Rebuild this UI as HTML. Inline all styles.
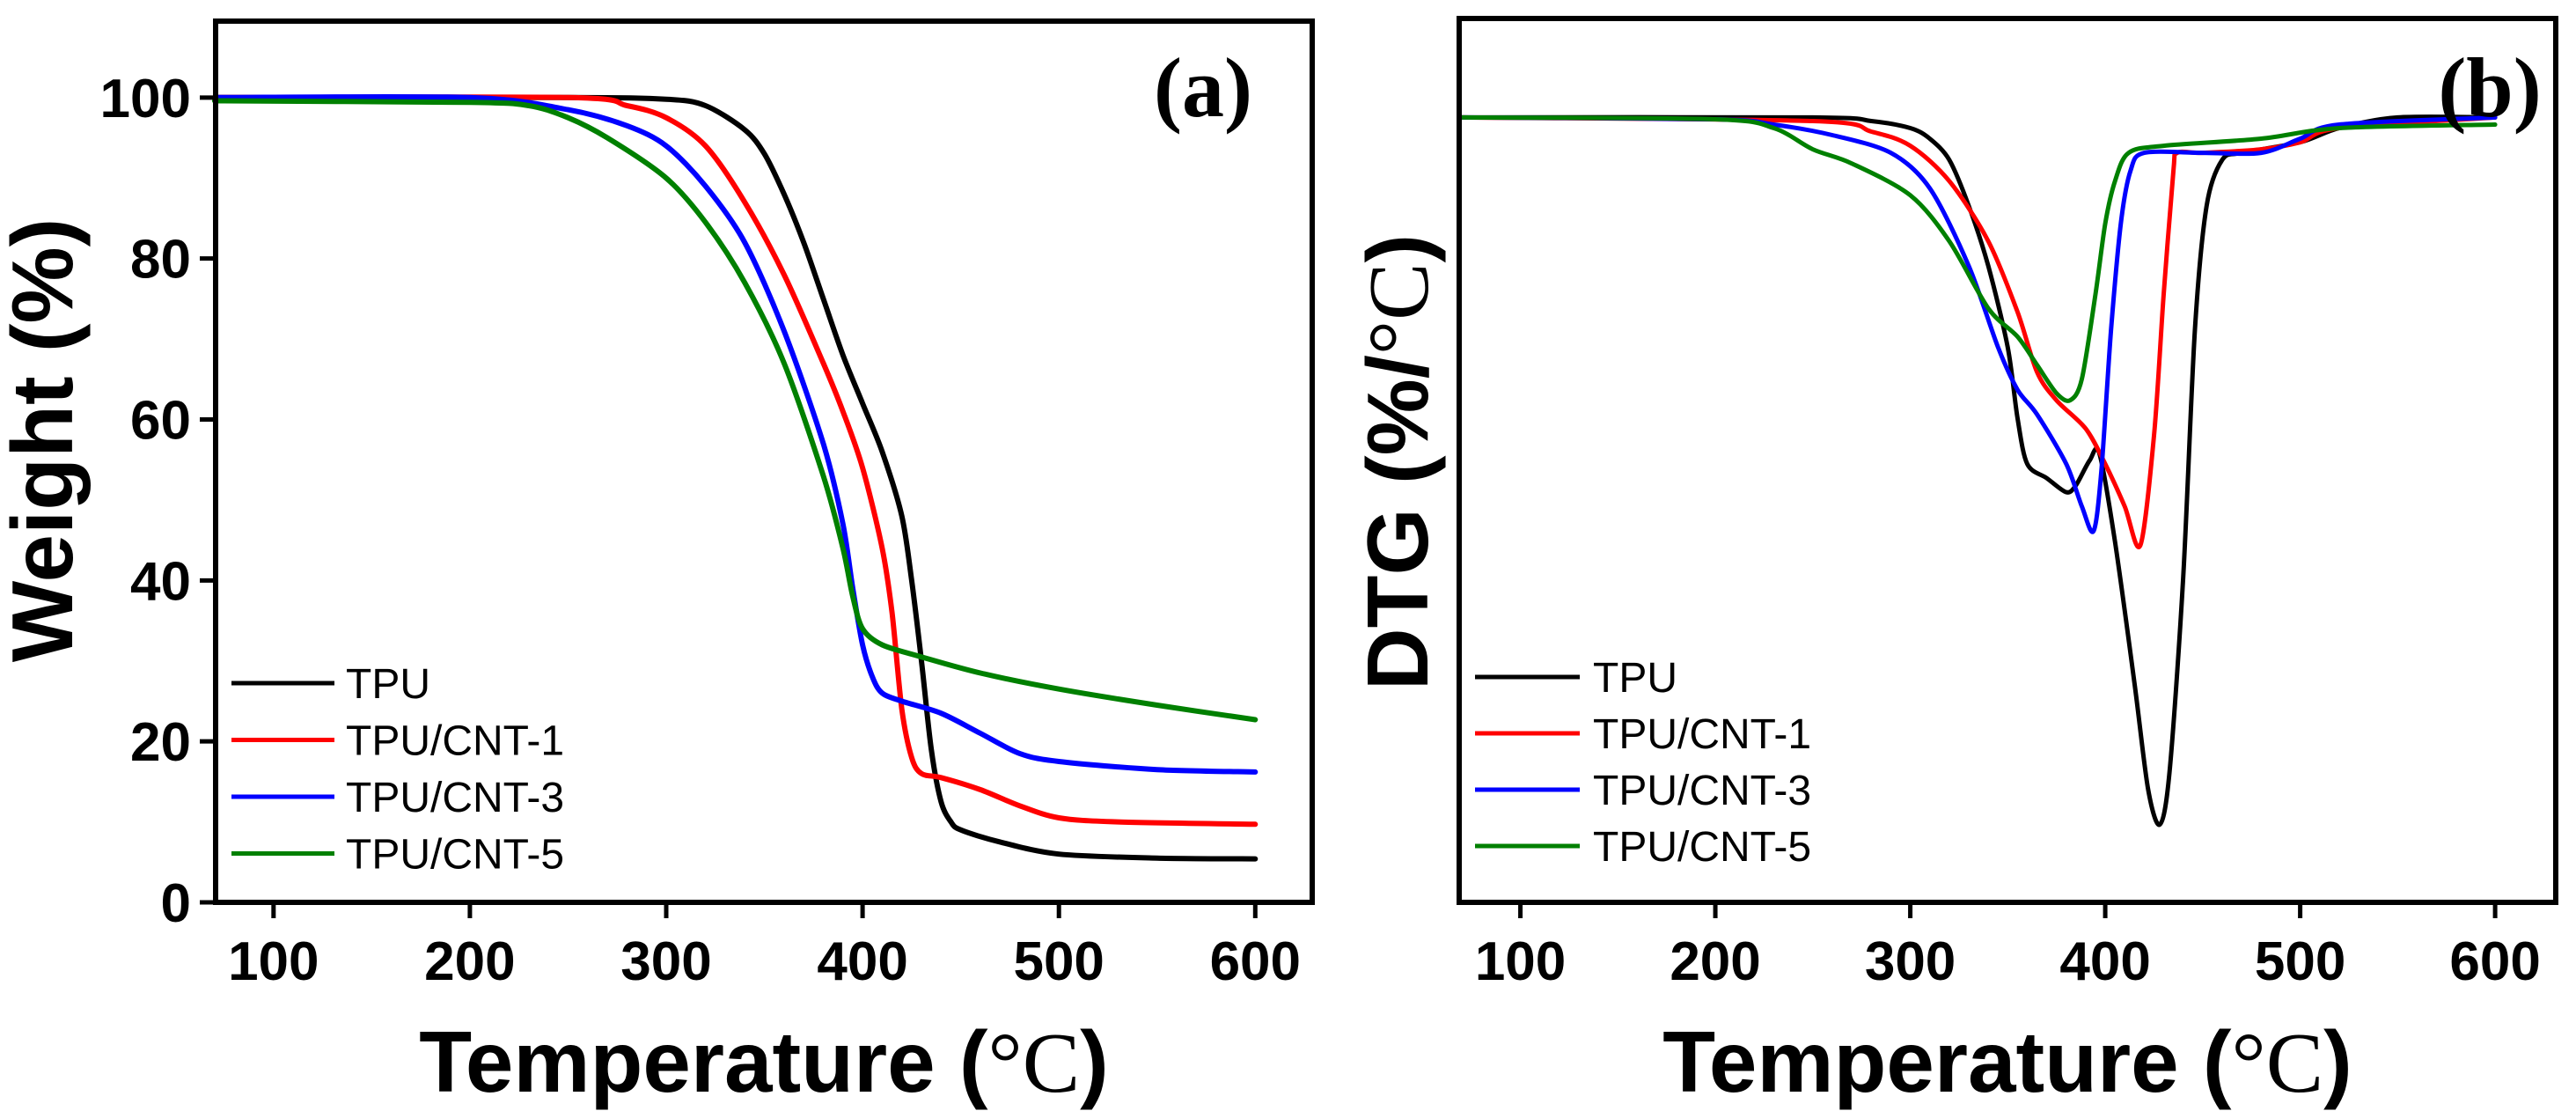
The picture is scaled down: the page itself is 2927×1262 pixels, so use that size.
<!DOCTYPE html>
<html><head><meta charset="utf-8">
<style>
html,body{margin:0;padding:0;background:#fff;}
svg{display:block;}
.tk{font-family:"Liberation Sans",Arial,sans-serif;font-weight:bold;font-size:62px;fill:#000;}
.lg{font-family:"Liberation Sans",Arial,sans-serif;font-size:48px;fill:#000;}
.ttl{font-family:"Liberation Sans",Arial,sans-serif;font-weight:bold;font-size:98px;fill:#000;}
</style></head>
<body>
<svg id="fig" width="2927" height="1262" viewBox="0 0 2927 1262" xmlns="http://www.w3.org/2000/svg">
<g id="pa"></g>
<g id="pb"></g>
</svg>
<script>
// ---------- shared ----------
const seriesNames = ["TPU","TPU/CNT-1","TPU/CNT-3","TPU/CNT-5"];
const seriesColors = ["#000000","#ff0000","#0000ff","#008000"];
const xTicks = [100,200,300,400,500,600];
const yTicksA = [0,20,40,60,80,100];

// ---------- panel (a) TGA: weight % ----------
const tgaT_TPU = [70,250,300,320,340,350,360,370,380,390,400,410,420,425,430,435,440,445,450,470,500,550,600];
const tgaW_TPU = [100,100,99.8,99,96,93,88,82,75,68,62,56,48,40,30,19,12.5,10,9,7.5,6,5.5,5.4];
const tgaT_C1 = [70,250,280,300,320,340,360,380,390,400,410,415,420,425,430,440,460,480,500,530,600];
const tgaW_C1 = [100,100,99,97.5,94,87,78,67,61,54,44,36,24,18,16,15.5,14,12,10.5,10,9.7];
const tgaT_C3 = [70,200,250,280,300,320,340,360,380,390,395,400,405,410,420,440,460,480,500,550,600];
const tgaW_C3 = [100,100,98.5,96.5,94,89,82,71,57,47,39,32,28,26,25,23.5,21,18.5,17.5,16.5,16.2];
const tgaT_C5 = [70,200,230,250,270,300,320,340,360,380,390,395,400,410,430,460,500,550,600];
const tgaW_C5 = [99.6,99.4,99,97.5,95,90,84.5,77,67,53,44,38,34,32,30.5,28.5,26.5,24.5,22.7];

// ---------- panel (b) DTG (arbitrary units, baseline 0) ----------
const dtgT_TPU = [70,250,280,300,310,320,330,340,350,355,360,370,380,385,392,397,405,415,422,428,433,440,446,452,460,470,500,520,550,600];
const dtgV_TPU = [0,0,-0.01,-0.03,-0.06,-0.12,-0.25,-0.42,-0.65,-0.85,-0.98,-1.02,-1.06,-1.04,-0.97,-0.95,-1.2,-1.6,-1.9,-2.0,-1.85,-1.3,-0.6,-0.25,-0.12,-0.1,-0.07,-0.03,0,0];
const dtgT_C1 = [70,250,280,300,320,340,355,365,375,390,400,410,418,425,430,435,437,450,480,500,520,600];
const dtgV_C1 = [0,-0.01,-0.04,-0.08,-0.18,-0.35,-0.55,-0.72,-0.8,-0.88,-0.98,-1.1,-1.21,-0.9,-0.5,-0.15,-0.1,-0.1,-0.09,-0.07,-0.03,0];
const dtgT_C3 = [70,200,230,260,290,310,330,345,355,365,380,388,394,398,403,408,413,420,450,480,500,520,600];
const dtgV_C3 = [0,-0.005,-0.02,-0.05,-0.1,-0.2,-0.42,-0.65,-0.77,-0.84,-0.98,-1.1,-1.17,-1.0,-0.6,-0.3,-0.15,-0.1,-0.1,-0.1,-0.06,-0.02,0];
const dtgT_C5 = [70,200,230,250,270,300,320,340,355,365,375,382,388,395,400,405,412,430,480,520,600];
const dtgV_C5 = [0,-0.005,-0.03,-0.09,-0.13,-0.22,-0.35,-0.54,-0.62,-0.7,-0.78,-0.8,-0.74,-0.5,-0.3,-0.18,-0.1,-0.08,-0.06,-0.03,-0.02];

const NS="http://www.w3.org/2000/svg";
function mk(tag,attrs,parent){const e=document.createElementNS(NS,tag);for(const k in attrs)e.setAttribute(k,attrs[k]);parent.appendChild(e);return e;}

function smoothPath(P){
  let d="M"+P[0][0].toFixed(1)+","+P[0][1].toFixed(1);
  for(let i=0;i<P.length-1;i++){
    const p0=P[Math.max(0,i-1)],p1=P[i],p2=P[i+1],p3=P[Math.min(P.length-1,i+2)];
    const k=1/6*0.9;
    const c1=[p1[0]+(p2[0]-p0[0])*k,p1[1]+(p2[1]-p0[1])*k];
    const c2=[p2[0]-(p3[0]-p1[0])*k,p2[1]-(p3[1]-p1[1])*k];
    d+=" C"+c1[0].toFixed(1)+","+c1[1].toFixed(1)+" "+c2[0].toFixed(1)+","+c2[1].toFixed(1)+" "+p2[0].toFixed(1)+","+p2[1].toFixed(1);
  }
  return d;
}

function drawPanel(g, box, xDom, yDom, yTicks, series, legend, tag, yLabel){
  const xS=v=>box.l+(v-xDom[0])/(xDom[1]-xDom[0])*(box.r-box.l);
  const yS=v=>box.b-(v-yDom[0])/(yDom[1]-yDom[0])*(box.b-box.t);
  series.forEach((s,i)=>{
    const P=s.T.map((t,j)=>[xS(t),yS(s.V[j])]);
    const p=mk("path",{d:smoothPath(P),fill:"none",stroke:seriesColors[i],"stroke-width":s.w,"stroke-linejoin":"round","stroke-linecap":"round"},g);
    
    
  });
  const fr=mk("rect",{x:box.l,y:box.t,width:box.r-box.l,height:box.b-box.t,fill:"none",stroke:"#000","stroke-width":6},g);
  
  
  xTicks.forEach(v=>{
    const x=xS(v);
    const t=mk("line",{x1:x,y1:box.b,x2:x,y2:box.b+18,stroke:"#000","stroke-width":5},g);
    
    
    const lb=mk("text",{x:x,y:box.b+88,"text-anchor":"middle",class:"tk"},g);
    lb.textContent=v;
    
    
  });
  yTicks.forEach(v=>{
    const y=yS(v);
    const t=mk("line",{x1:box.l-18,y1:y,x2:box.l,y2:y,stroke:"#000","stroke-width":5},g);
    
    
    const lb=mk("text",{x:box.l-28,y:y+22,"text-anchor":"end",class:"tk"},g);
    lb.textContent=v;
    
    
  });
  seriesNames.forEach((n,i)=>{
    const y=legend.y0+i*legend.dy;
    const ln=mk("line",{x1:legend.x1,y1:y,x2:legend.x2,y2:y,stroke:seriesColors[i],"stroke-width":5},g);
    
    
    const tx=mk("text",{x:legend.tx,y:y+17,class:"lg"},g);
    tx.textContent=n;
    
    
  });
  const tg=mk("text",{x:tag.x,y:tag.y,"text-anchor":"middle","font-family":"Liberation Serif,serif","font-weight":"bold","font-size":"96"},g);
  tg.textContent=tag.t;
  
  
  const xt=mk("text",{x:(box.l+box.r)/2,y:1240,"text-anchor":"middle",class:"ttl"},g);
  xt.innerHTML='Temperature (<tspan font-family="Liberation Serif,serif" font-weight="normal">°C</tspan>)';
  
  
  const yt=mk("text",{x:0,y:0,"text-anchor":"middle",class:"ttl",transform:`translate(${yLabel.x},${yLabel.y}) rotate(-90)`},g);
  yt.innerHTML=yLabel.html;
  
  
}

const pa=document.getElementById('pa'), pb=document.getElementById('pb');
drawPanel(pa,{l:245,r:1491,t:24,b:1025},[70.5,629],[0,109.5],yTicksA,
  [{T:tgaT_TPU,V:tgaW_TPU,w:6},{T:tgaT_C1,V:tgaW_C1,w:6},{T:tgaT_C3,V:tgaW_C3,w:6},{T:tgaT_C5,V:tgaW_C5,w:6}],
  {x1:263,x2:380,tx:393,y0:776,dy:64.5},{x:1367,y:132,t:"(a)"},
  {x:82,y:500,html:'Weight (%)'});
drawPanel(pb,{l:1658,r:2904,t:21,b:1025},[68.6,631.1],[-2.22,0.28],[],
  [{T:dtgT_TPU,V:dtgV_TPU,w:5},{T:dtgT_C1,V:dtgV_C1,w:5},{T:dtgT_C3,V:dtgV_C3,w:5},{T:dtgT_C5,V:dtgV_C5,w:5}],
  {x1:1676,x2:1795,tx:1810,y0:769,dy:64},{x:2829,y:132,t:"(b)"},
  {x:1622,y:525,html:'DTG (%/<tspan font-family="Liberation Serif,serif" font-weight="normal">°C</tspan>)'});
</script>
</body></html>
